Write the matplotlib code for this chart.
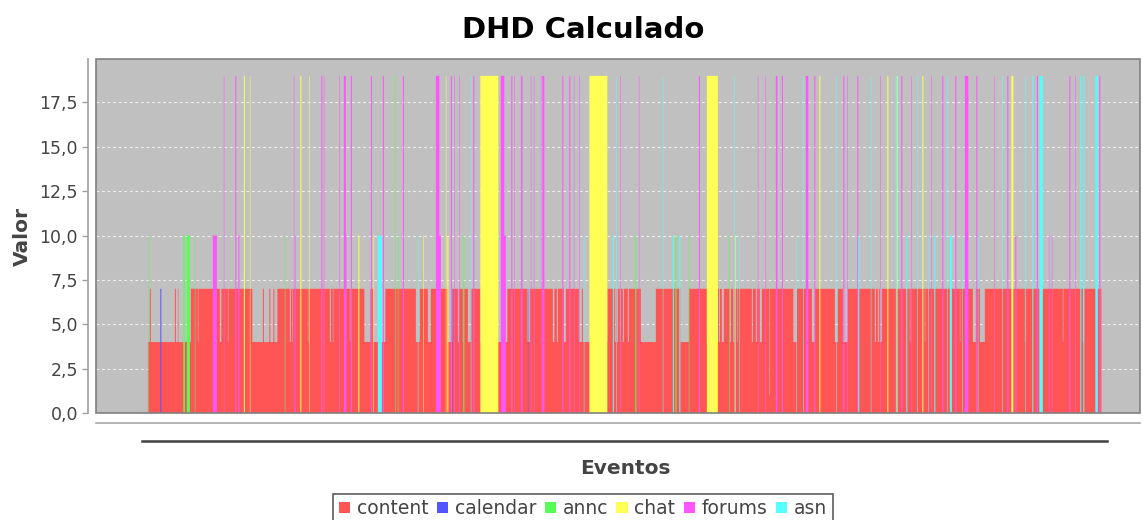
import numpy as np
import matplotlib
matplotlib.use("Agg")
import matplotlib.pyplot as plt
from matplotlib.patches import Patch, Rectangle
from matplotlib.lines import Line2D
from matplotlib.ticker import FuncFormatter

# ---------------- data ----------------
series_names = ["content", "calendar", "annc", "chat", "forums", "asn"]
series_colors = ["#FF5555", "#5555FF", "#55FF55", "#FFFF55", "#FF55FF", "#55FFFF"]

# content events, run-length encoded: (value, number of consecutive events)
content_runs = [
    (4, 4), (7, 2), (4, 48), (7, 2), (4, 4), (7, 1), (4, 25), (7, 14), (4, 1), (7, 43),
    (4, 3), (7, 13), (4, 1), (7, 48), (4, 21), (7, 2), (4, 11), (7, 2), (4, 6), (7, 2),
    (4, 6), (7, 25), (4, 2), (7, 3), (4, 1), (7, 30), (4, 1), (7, 43), (4, 2), (7, 4),
    (4, 1), (7, 33), (4, 1), (7, 28), (4, 12), (7, 6), (4, 24), (7, 61), (4, 8), (7, 16),
    (4, 6), (7, 34), (4, 10), (7, 10), (4, 2), (7, 8), (4, 1), (7, 9), (4, 6), (7, 19),
    (4, 54), (7, 40), (4, 5), (7, 46),
    (4, 3), (7, 5), (4, 2), (7, 12), (4, 4), (7, 2), (7, 24),
    (4, 6), (7, 2), (4, 49), (7, 15), (4, 2), (7, 2), (4, 2), (7, 4), (4, 2), (7, 4),
    (4, 2), (7, 8), (4, 2), (7, 24), (4, 30), (7, 49), (4, 17), (7, 36), (4, 22), (7, 2),
    (4, 2), (7, 4), (4, 4), (7, 12),
    (4, 2), (7, 5), (4, 2), (7, 6), (4, 1), (7, 4),
    (7, 24), (4, 2), (7, 6), (4, 2), (7, 6), (4, 4), (7, 15), (1, 1), (7, 47), (4, 7),
    (7, 30), (4, 6), (7, 40), (4, 6), (7, 10), (4, 10), (7, 54), (4, 2), (7, 4), (4, 2),
    (7, 2), (4, 4), (7, 56), (4, 1), (7, 29), (4, 1), (7, 69), (4, 1), (7, 25), (4, 6),
    (7, 8), (4, 10), (7, 80), (4, 1), (7, 75), (4, 1), (7, 39), (4, 2), (7, 35),
]

# other series: (first event index, number of consecutive events, value)
calendar_events = [(25, 2, 7), (609, 1, 7), (760, 1, 7)]
annc_events = [(1, 1, 10), (71, 3, 10), (78, 6, 10), (94, 1, 10), (274, 1, 10),
               (495, 1, 19), (500, 1, 10), (631, 2, 10), (975, 2, 10), (1055, 2, 10),
               (1082, 1, 10), (1163, 1, 10)]
chat_events = [(192, 2, 19), (204, 1, 19), (305, 2, 19), (323, 1, 19), (421, 2, 10),
               (451, 1, 10), (551, 1, 10), (596, 1, 19), (599, 2, 10), (665, 36, 19),
               (883, 36, 19), (1118, 22, 19), (1175, 1, 10), (1343, 2, 19), (1479, 2, 19),
               (1499, 1, 19), (1549, 2, 19), (1727, 4, 19)]
forums_events = [(130, 8, 10), (152, 1, 19), (175, 2, 19), (181, 2, 10), (292, 1, 19),
                 (295, 1, 10), (347, 2, 19), (352, 1, 19), (383, 1, 19), (392, 4, 19),
                 (397, 1, 10), (406, 2, 19), (446, 2, 19), (470, 2, 19), (510, 2, 19),
                 (576, 7, 19), (583, 3, 10), (606, 2, 19), (613, 1, 19), (623, 1, 19),
                 (651, 2, 19), (706, 7, 19), (713, 3, 10), (727, 2, 19), (733, 1, 19),
                 (746, 2, 19), (749, 1, 19), (766, 1, 19), (772, 1, 19), (786, 1, 19),
                 (789, 4, 19), (829, 2, 19), (843, 2, 19), (852, 1, 19), (863, 1, 19),
                 (945, 1, 19), (982, 1, 19), (1102, 2, 19), (1220, 1, 19), (1235, 1, 19),
                 (1256, 3, 19), (1268, 2, 19), (1316, 5, 19), (1333, 2, 19), (1391, 2, 19),
                 (1399, 1, 19), (1419, 2, 19), (1465, 1, 19), (1507, 2, 19), (1527, 1, 19),
                 (1567, 1, 19), (1589, 2, 19), (1615, 2, 19), (1634, 7, 19), (1657, 2, 19),
                 (1693, 1, 19), (1719, 2, 19), (1735, 2, 10), (1778, 2, 19), (1802, 1, 10),
                 (1808, 1, 10), (1843, 2, 19), (1855, 1, 19), (1903, 2, 19)]
asn_events = [(460, 8, 10), (540, 1, 10), (646, 1, 19), (872, 1, 10), (930, 2, 10),
              (937, 1, 19), (1030, 1, 19), (1050, 2, 10), (1063, 2, 10), (1173, 1, 19),
              (1183, 1, 10), (1297, 1, 10), (1311, 1, 19), (1377, 1, 19), (1421, 2, 10),
              (1446, 1, 19), (1496, 2, 19), (1517, 2, 10), (1539, 1, 19), (1561, 1, 10),
              (1573, 2, 10), (1599, 1, 19), (1604, 4, 10), (1629, 1, 10), (1660, 1, 10),
              (1709, 1, 19), (1755, 1, 19), (1769, 2, 19), (1783, 7, 19), (1865, 2, 19),
              (1871, 2, 19), (1895, 5, 19)]

y_ticks = [0, 2.5, 5, 7.5, 10, 12.5, 15, 17.5]

# ---------------- figure ----------------
W, H = 1143, 520
fig = plt.figure(figsize=(W / 100, H / 100), dpi=100)
fig.patch.set_facecolor("white")

L, R, T, B = 96, 1140, 59, 413
ax = fig.add_axes([L / W, 1 - B / H, (R - L) / W, (B - T) / H])
ax.set_facecolor("#C0C0C0")
ax.set_axisbelow(True)

content_values = np.repeat([r[0] for r in content_runs], [r[1] for r in content_runs])
N = len(content_values)
edges = np.arange(N + 1)
sp = ax.stairs(content_values, edges, fill=True, facecolor=series_colors[0],
               edgecolor="none", baseline=0, linewidth=0, zorder=2)
sp.set_snap(False)

others = [calendar_events, annc_events, chat_events, forums_events, asn_events]
for events, col in zip(others, series_colors[1:]):
    vals = np.zeros(N)
    for start, count, v in events:
        vals[start:start + count] = v
    s = ax.stairs(vals, edges, fill=True, facecolor=col, edgecolor="none",
                  baseline=0, linewidth=0, zorder=3)
    s.set_snap(False)

# x: one event = half a pixel; data starts at x=148 px
px_per_event = 0.5
off = 0.3
ax.set_xlim(-(148 - L) / px_per_event + off, (R - 148) / px_per_event + off)
ax.set_ylim(0, 19.95)

ax.set_yticks(y_ticks)
ax.yaxis.set_major_formatter(FuncFormatter(lambda v, p: f"{v:.1f}".replace(".", ",")))
ax.tick_params(axis="y", colors="#A0A0A0", labelcolor="#444444", labelsize=12.5,
               length=4, width=1, direction="out", pad=3)
ax.set_xticks([])
ax.yaxis.grid(True, color="#F0F0F0", linestyle=(0, (2.5, 2.5)), linewidth=0.8)

for s in ["top", "right"]:
    ax.spines[s].set_visible(False)
ax.spines["left"].set_position(("outward", 6))
ax.spines["bottom"].set_position(("outward", 7))
ax.spines["left"].set_color("#A0A0A0")
ax.spines["bottom"].set_color("#A8A8A8")
ax.spines["left"].set_linewidth(1.2)
ax.spines["bottom"].set_linewidth(1.2)

ax.add_patch(Rectangle((0, 0), 1, 1, transform=ax.transAxes, fill=False,
                       edgecolor="#808080", linewidth=1.2, zorder=5, clip_on=False))

# dark category-axis band
fig.add_artist(Line2D([142 / W, 1107 / W], [1 - 440.5 / H, 1 - 440.5 / H],
                      color="#404040", linewidth=1.8))

# texts
fig.text(583 / W, 1 - 30 / H, "DHD Calculado", ha="center", va="center",
         fontsize=21, fontweight="bold", color="black")
fig.text(22 / W, 1 - 237 / H, "Valor", ha="center", va="center", rotation=90,
         fontsize=14.5, fontweight="bold", color="#444444")
fig.text(625 / W, 1 - 469 / H, "Eventos", ha="center", va="center",
         fontsize=14.5, fontweight="bold", color="#444444")

handles = [Patch(facecolor=c, edgecolor="none") for c in series_colors]
leg = fig.legend(handles, series_names, loc="upper center", ncol=6,
                 bbox_to_anchor=(583 / W, 1 - 493.5 / H), frameon=True, fancybox=False,
                 fontsize=13.5, handlelength=0.6, handleheight=0.6, handletextpad=0.35,
                 columnspacing=0.45, borderpad=0.3, borderaxespad=0)
leg.get_frame().set_edgecolor("#333333")
leg.get_frame().set_linewidth(1.2)
for t in leg.get_texts():
    t.set_color("#444444")

fig.savefig("out.png", dpi=100)
